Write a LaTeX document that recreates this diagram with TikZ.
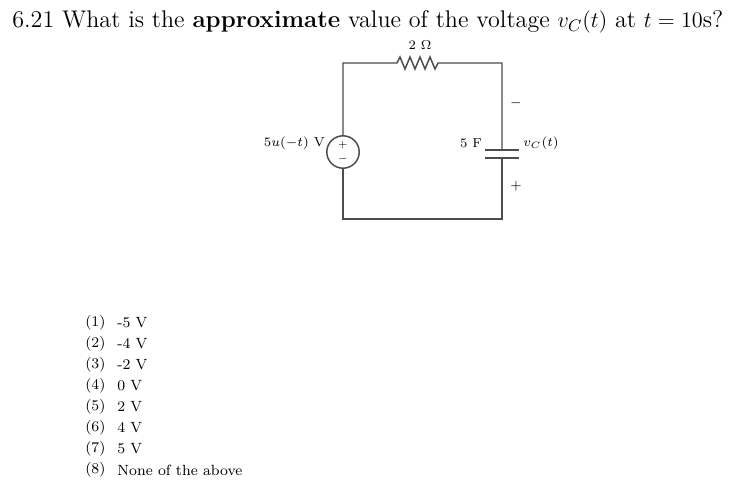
\documentclass[tikz,border=0pt]{standalone}
\begin{document}
\begin{tikzpicture}[x=0.54pt,y=-0.54pt,
  wire/.style={draw=black!70,line width=0.8pt},
  lbl/.style={font=\scriptsize,inner sep=1pt},
  opt/.style={font=\footnotesize,anchor=west,inner sep=0pt}]
\useasboundingbox (0,0) rectangle (742,491);
\node[anchor=west,inner sep=0pt,font=\fontsize{13}{15}\selectfont] (title) at (12,22)
 {6.21 What is the \textbf{approximate} value of the voltage $v_C(t)$ at $t=10$s?};
\coordinate (tl) at (343,63); \coordinate (tr) at (502,63);
\coordinate (bl) at (343,219); \coordinate (br) at (502,219);
\coordinate (r1) at (397,63); \coordinate (r2) at (443,63);
\coordinate (c1) at (502,150); \coordinate (c2) at (502,158);
\node[circle,wire,minimum size=17.5pt,inner sep=0pt] (src) at (343,152) {};
\node[font=\tiny,inner sep=0pt] (p) at (343,145) {$+$};
\node[font=\tiny,inner sep=0pt] (m) at (343,159) {$-$};
\draw[wire] (src.north) -- (tl) -- (r1)
  -- ++(3,-6) -- ++(5,12) -- ++(5,-12) -- ++(5,12) -- ++(5,-12) -- ++(5,12) -- ++(5,-12) -- ++(5,12) -- ++(3,-6) -- (r2)
  -- (tr) -- (c1);
\draw[wire] (c2) -- (br) -- (bl) -- (src.south);
\draw[wire] ([xshift=-9pt]c1) -- ([xshift=9pt]c1);
\draw[wire] ([xshift=-9pt]c2) -- ([xshift=9pt]c2);
\node[lbl] (rl) at (420,45) {$2\ \Omega$};
\node[lbl,anchor=east] (sl) at (327,143) {$5u(-t)$ V};
\node[lbl] (cl) at (471,143) {5 F};
\node[lbl] (vl) at (541,143) {$v_C(t)$};
\node[lbl] (mn) at (516,103) {$-$};
\node[lbl] (pl) at (516,186) {$+$};
\foreach \i/\t [count=\k] in {(1)/-5 V,(2)/-4 V,(3)/-2 V,(4)/0 V,(5)/2 V,(6)/4 V,(7)/5 V,(8)/None of the above}{
  \node[opt] (o\k) at (85,{323+(\k-1)*21}) {\i};
  \node[opt] (t\k) at (117,{323+(\k-1)*21}) {\t};
}
\end{tikzpicture}
\end{document}
